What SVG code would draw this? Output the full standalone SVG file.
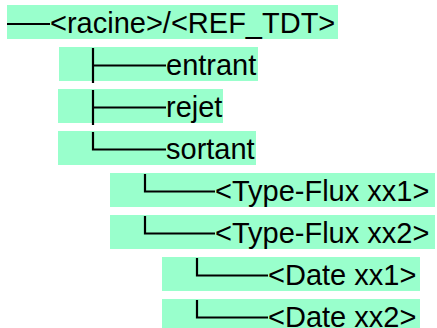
<svg xmlns="http://www.w3.org/2000/svg" width="437" height="328" viewBox="0 0 437 328">
<style>
.bg{fill:#99ffcc}
.t{font-family:"Liberation Sans",Arial,sans-serif;font-size:29px;fill:#000}
.c{fill:none;stroke:#000;stroke-width:2.2}
</style>
<rect width="437" height="328" fill="#fff"/>
<g id="n-racine"><rect class="bg" x="7" y="5" width="331" height="34"/><text class="t" x="50" y="33">&lt;racine&gt;/&lt;REF_TDT&gt;</text></g>
<g id="n-entrant"><rect class="bg" x="59" y="47" width="199" height="34"/><text class="t" x="166" y="75">entrant</text></g>
<g id="n-rejet"><rect class="bg" x="58" y="89" width="165" height="34"/><text class="t" x="166" y="117">rejet</text></g>
<g id="n-sortant"><rect class="bg" x="58" y="131" width="198" height="34"/><text class="t" x="166" y="159">sortant</text></g>
<g id="n-flux1"><rect class="bg" x="110" y="173" width="325" height="34"/><text class="t" x="215" y="201">&lt;Type-Flux xx1&gt;</text></g>
<g id="n-flux2"><rect class="bg" x="110" y="215" width="325" height="34"/><text class="t" x="215" y="243">&lt;Type-Flux xx2&gt;</text></g>
<g id="n-date1"><rect class="bg" x="162" y="257" width="258" height="34"/><text class="t" x="268" y="285">&lt;Date xx1&gt;</text></g>
<g id="n-date2"><rect class="bg" x="162" y="299" width="258" height="34"/><text class="t" x="268" y="327">&lt;Date xx2&gt;</text></g>
<g id="connectors">
<path class="c" d="M7 24H50"/>
<path class="c" d="M93 48V83M93 65.5H166"/>
<path class="c" d="M93 90V125M93 107.5H166"/>
<path class="c" d="M93 132V149.5H166"/>
<path class="c" d="M145 174V191.5H215"/>
<path class="c" d="M145 216V233.5H215"/>
<path class="c" d="M197 258V275.5H268"/>
<path class="c" d="M197 300V317.5H268"/>
</g>
</svg>
